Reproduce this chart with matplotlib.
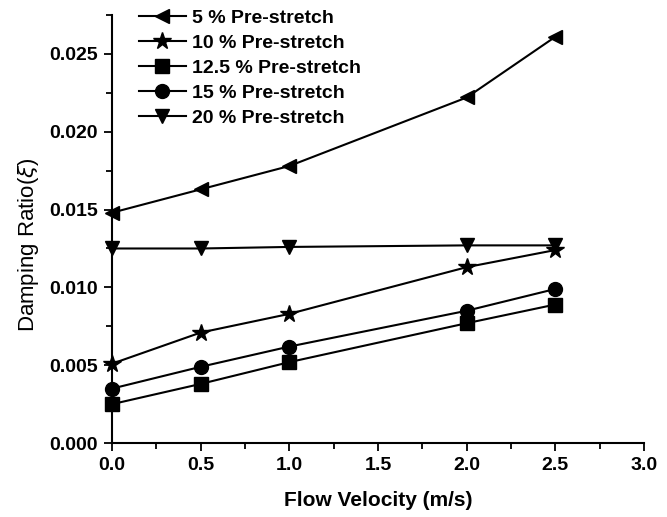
import matplotlib
matplotlib.use("Agg")
import matplotlib.pyplot as plt
from matplotlib.ticker import MultipleLocator

# flow velocity (m/s)
velocity = [0.0, 0.5, 1.0, 2.0, 2.5]

# damping ratio for each pre-stretch level
ps_5 = [0.0148, 0.0163, 0.0178, 0.0222, 0.0261]
ps_10 = [0.0051, 0.0071, 0.0083, 0.0113, 0.0124]
ps_12_5 = [0.0025, 0.0038, 0.0052, 0.0077, 0.0089]
ps_15 = [0.0035, 0.0049, 0.0062, 0.0085, 0.0099]
ps_20 = [0.0125, 0.0125, 0.0126, 0.0127, 0.0127]

series = [
    (ps_5, '<', '5 % Pre-stretch'),
    (ps_10, '*', '10 % Pre-stretch'),
    (ps_12_5, 's', '12.5 % Pre-stretch'),
    (ps_15, 'o', '15 % Pre-stretch'),
    (ps_20, 'v', '20 % Pre-stretch'),
]

plt.rcParams['font.family'] = ['Liberation Sans', 'DejaVu Sans']

fig = plt.figure(figsize=(6.67, 5.17), dpi=100)
ax = fig.add_axes([0.168, 0.143, 0.7975, 0.828])

for vals, mk, lab in series:
    ms = 13 if mk == '*' else 10
    ax.plot(velocity, vals, color='black', marker=mk, markersize=ms,
            linewidth=1.5, label=lab, clip_on=False)

ax.set_xlim(0, 3.0)
ax.set_ylim(0, 0.0275)
ax.xaxis.set_major_locator(MultipleLocator(0.5))
ax.xaxis.set_minor_locator(MultipleLocator(0.25))
ax.yaxis.set_major_locator(MultipleLocator(0.005))
ax.yaxis.set_minor_locator(MultipleLocator(0.0025))
ax.yaxis.set_major_formatter(plt.FormatStrFormatter('%.3f'))
ax.xaxis.set_major_formatter(plt.FormatStrFormatter('%.1f'))

for s in ['top', 'right']:
    ax.spines[s].set_visible(False)
for s in ['left', 'bottom']:
    ax.spines[s].set_linewidth(1.5)

ax.tick_params(which='major', direction='out', length=6, width=1.3,
               labelsize=14, pad=4)
ax.tick_params(which='minor', direction='out', length=4, width=1.3)
for lbl in ax.get_xticklabels() + ax.get_yticklabels():
    lbl.set_fontweight('bold')

ax.set_xlabel('Flow Velocity (m/s)', fontsize=15, fontweight='bold',
              labelpad=12)
ax.set_ylabel(r'Damping Ratio($\xi$)', fontsize=16)
ax.yaxis.set_label_coords(-0.133, 0.465)

ax.legend(loc='upper left', bbox_to_anchor=(0.018, 1.055), frameon=False,
          prop={'size': 14, 'weight': 'bold'}, handlelength=2.4,
          labelspacing=0.38, handletextpad=0.3)

fig.savefig('out.png', dpi=100)
